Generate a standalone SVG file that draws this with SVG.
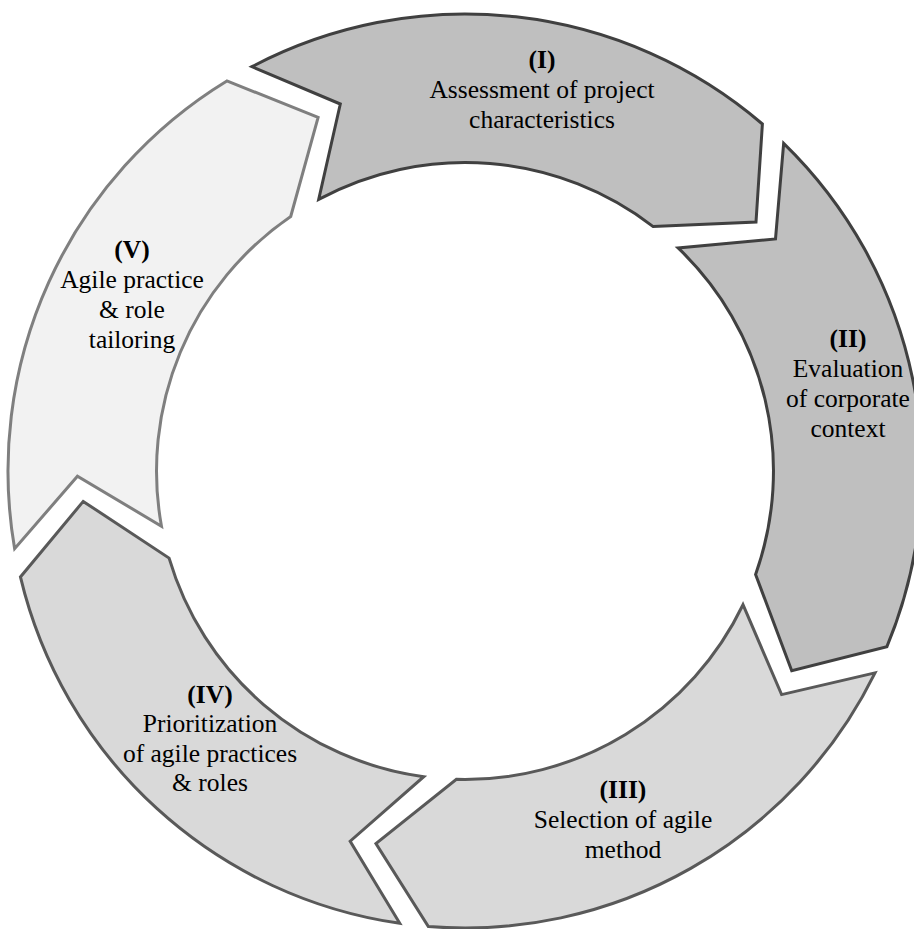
<svg xmlns="http://www.w3.org/2000/svg" width="914" height="929" viewBox="0 0 914 929">
<style>
  .seg { stroke-width: 3; stroke-linejoin: miter; }
  .dark { fill: #bfbfbf; stroke: #404040; }
  .mid { fill: #d9d9d9; stroke: #595959; }
  .light { fill: #f2f2f2; stroke: #7f7f7f; }
  .lbl { font-family: 'Liberation Serif', 'Times New Roman', 'DejaVu Serif', serif; font-size: 25.5px; fill: #000000; text-anchor: middle; }
  .num { font-weight: bold; }
</style>
<defs>
  <path id="segShape" d="M 251.9 66.7 A 457 457 0 0 1 762.4 124.0 L 756 222 L 653.2 226.6 A 308.5 308.5 0 0 0 318.7 199.4 L 340.3 104 Z"/>
</defs>
<rect width="914" height="929" fill="#ffffff"/>
<g id="connectors"></g>
<g id="step1">
  <use href="#segShape" class="seg dark"/>
  <g class="lbl" font-family="Liberation Serif, serif">
    <text x="542" y="68" class="num">(I)</text>
    <text x="542" y="98">Assessment of project</text>
    <text x="542" y="128">characteristics</text>
  </g>
</g>
<g id="step2">
  <use href="#segShape" class="seg dark" transform="rotate(72 465 471)"/>
  <g class="lbl" font-family="Liberation Serif, serif">
    <text x="848" y="347" class="num">(II)</text>
    <text x="848" y="377">Evaluation</text>
    <text x="848" y="407">of corporate</text>
    <text x="848" y="437">context</text>
  </g>
</g>
<g id="step3">
  <use href="#segShape" class="seg mid" transform="rotate(144 465 471)"/>
  <g class="lbl" font-family="Liberation Serif, serif">
    <text x="623" y="798" class="num">(III)</text>
    <text x="623" y="828">Selection of agile</text>
    <text x="623" y="858">method</text>
  </g>
</g>
<g id="step4">
  <use href="#segShape" class="seg mid" transform="rotate(216 465 471)"/>
  <g class="lbl" font-family="Liberation Serif, serif">
    <text x="210" y="703" class="num">(IV)</text>
    <text x="210" y="732">Prioritization</text>
    <text x="210" y="762">of agile practices</text>
    <text x="210" y="791">&amp; roles</text>
  </g>
</g>
<g id="step5">
  <use href="#segShape" class="seg light" transform="rotate(288 465 471)"/>
  <g class="lbl" font-family="Liberation Serif, serif">
    <text x="132" y="258" class="num">(V)</text>
    <text x="132" y="288">Agile practice</text>
    <text x="132" y="318">&amp; role</text>
    <text x="132" y="348">tailoring</text>
  </g>
</g>
</svg>
